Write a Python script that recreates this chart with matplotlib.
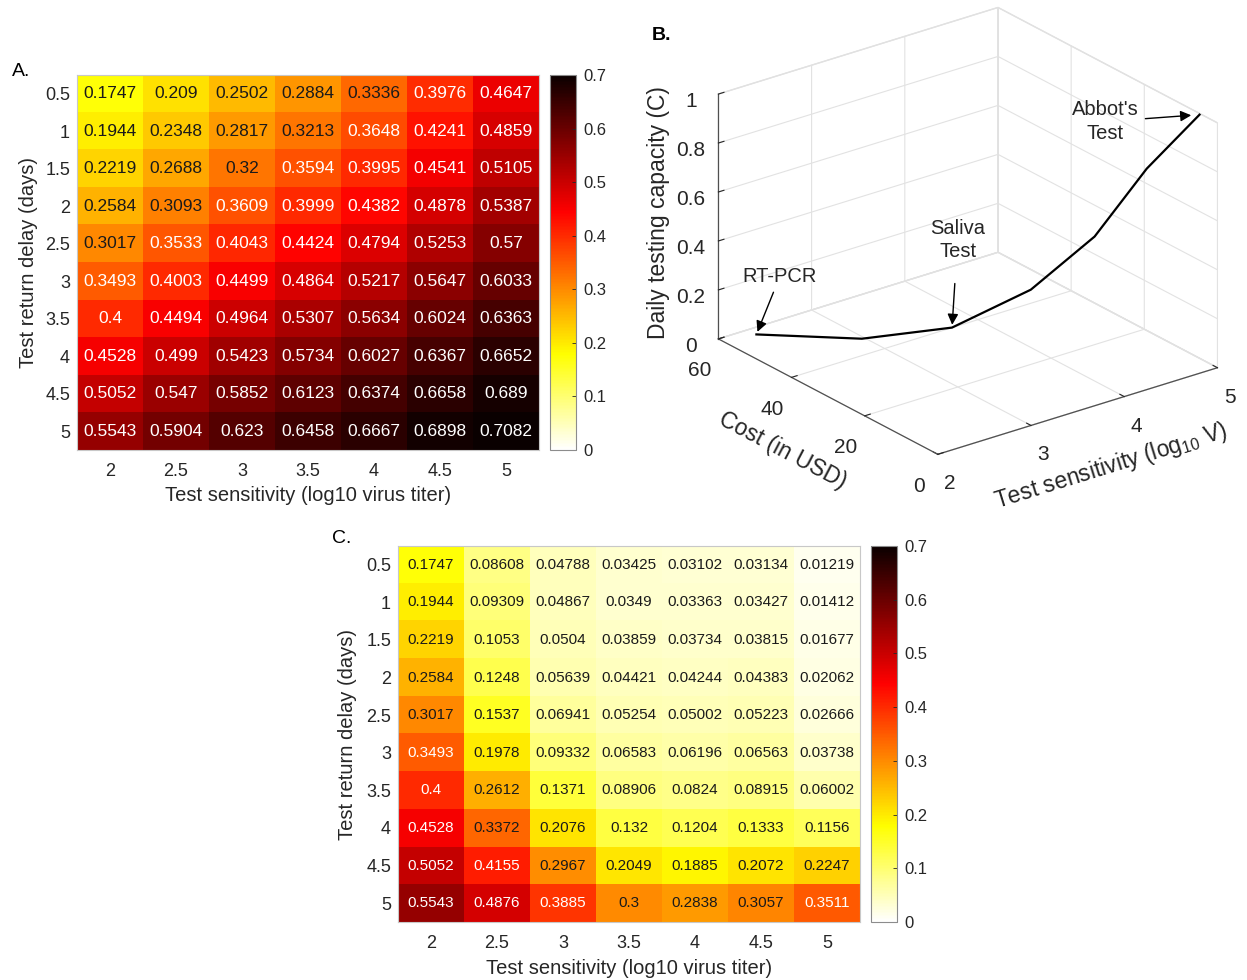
import numpy as np
import matplotlib
matplotlib.use('Agg')
import matplotlib.pyplot as plt
from mpl_toolkits.mplot3d import proj3d

plt.rcParams['font.family'] = ['Liberation Sans', 'DejaVu Sans']
plt.rcParams['mathtext.fontset'] = 'custom'
plt.rcParams['mathtext.rm'] = 'Liberation Sans'
plt.rcParams['mathtext.default'] = 'regular'

# ---------------- data ----------------
sens_labels = ['2', '2.5', '3', '3.5', '4', '4.5', '5']
delay_labels = ['0.5', '1', '1.5', '2', '2.5', '3', '3.5', '4', '4.5', '5']

prob_A = [
    [0.1747, 0.209, 0.2502, 0.2884, 0.3336, 0.3976, 0.4647],
    [0.1944, 0.2348, 0.2817, 0.3213, 0.3648, 0.4241, 0.4859],
    [0.2219, 0.2688, 0.32, 0.3594, 0.3995, 0.4541, 0.5105],
    [0.2584, 0.3093, 0.3609, 0.3999, 0.4382, 0.4878, 0.5387],
    [0.3017, 0.3533, 0.4043, 0.4424, 0.4794, 0.5253, 0.57],
    [0.3493, 0.4003, 0.4499, 0.4864, 0.5217, 0.5647, 0.6033],
    [0.4, 0.4494, 0.4964, 0.5307, 0.5634, 0.6024, 0.6363],
    [0.4528, 0.499, 0.5423, 0.5734, 0.6027, 0.6367, 0.6652],
    [0.5052, 0.547, 0.5852, 0.6123, 0.6374, 0.6658, 0.689],
    [0.5543, 0.5904, 0.623, 0.6458, 0.6667, 0.6898, 0.7082],
]

prob_C = [
    [0.1747, 0.08608, 0.04788, 0.03425, 0.03102, 0.03134, 0.01219],
    [0.1944, 0.09309, 0.04867, 0.0349, 0.03363, 0.03427, 0.01412],
    [0.2219, 0.1053, 0.0504, 0.03859, 0.03734, 0.03815, 0.01677],
    [0.2584, 0.1248, 0.05639, 0.04421, 0.04244, 0.04383, 0.02062],
    [0.3017, 0.1537, 0.06941, 0.05254, 0.05002, 0.05223, 0.02666],
    [0.3493, 0.1978, 0.09332, 0.06583, 0.06196, 0.06563, 0.03738],
    [0.4, 0.2612, 0.1371, 0.08906, 0.0824, 0.08915, 0.06002],
    [0.4528, 0.3372, 0.2076, 0.132, 0.1204, 0.1333, 0.1156],
    [0.5052, 0.4155, 0.2967, 0.2049, 0.1885, 0.2072, 0.2247],
    [0.5543, 0.4876, 0.3885, 0.3, 0.2838, 0.3057, 0.3511],
]

curve_sens = [2, 2.5, 3, 3.5, 4, 4.5, 5]
curve_cost = [49.6, 33.5, 21.6, 12.8, 8.1, 6.6, 4.9]
curve_capacity = [0.10, 0.15, 0.23, 0.395, 0.59, 0.82, 0.995]

cbar_ticks = [0, 0.1, 0.2, 0.3, 0.4, 0.5, 0.6, 0.7]
cbar_labels = ['0', '0.1', '0.2', '0.3', '0.4', '0.5', '0.6', '0.7']

# ---------------- figure ----------------
W, H = 1247, 980
fig = plt.figure(figsize=(W / 100, H / 100), dpi=100)
TXT = '#262626'
cmap = plt.get_cmap('hot_r')
VMAX = 0.7


def rect(x0, y0, x1, y1):
    return [x0 / W, 1 - y1 / H, (x1 - x0) / W, (y1 - y0) / H]


def heatmap(ax, cax, vals, cell_fs, lab_x, lab_y):
    arr = np.array(vals)
    im = ax.imshow(arr, cmap=cmap, vmin=0, vmax=VMAX, aspect='auto',
                   interpolation='nearest')
    for i in range(arr.shape[0]):
        for j in range(arr.shape[1]):
            r, g, b, _ = cmap(arr[i, j] / VMAX)
            lum = 0.2126 * r + 0.7152 * g + 0.0722 * b
            col = 'white' if lum < 0.485 else '#1a1a1a'
            ax.text(j, i, '%.4g' % arr[i, j], ha='center', va='center',
                    fontsize=cell_fs, color=col)
    ax.set_xticks(range(len(sens_labels)))
    ax.set_xticklabels(sens_labels)
    ax.set_yticks(range(len(delay_labels)))
    ax.set_yticklabels(delay_labels)
    ax.tick_params(axis='both', length=0, labelsize=13, colors=TXT)
    ax.tick_params(axis='x', pad=9)
    ax.tick_params(axis='y', pad=5)
    for s in ax.spines.values():
        s.set_color('#c8c8c8')
        s.set_linewidth(0.8)
    ax.set_xlabel('Test sensitivity (log10 virus titer)', fontsize=14.5, color=TXT)
    ax.set_ylabel('Test return delay (days)', fontsize=14.5, color=TXT)
    ax.xaxis.label.set_va('center')
    ax.yaxis.label.set_va('center')
    ax.xaxis.set_label_coords(0.5, lab_y)
    ax.yaxis.set_label_coords(lab_x, 0.5)

    cb = fig.colorbar(im, cax=cax)
    cb.set_ticks(cbar_ticks)
    cb.set_ticklabels(cbar_labels)
    cb.ax.tick_params(labelsize=12, colors=TXT, length=3, direction='in',
                      width=0.6, pad=5)
    cb.outline.set_edgecolor('#8c8c8c')
    cb.outline.set_linewidth(0.8)


# Panel A
axA = fig.add_axes(rect(77, 75, 539, 450))
caxA = fig.add_axes(rect(550, 75, 576, 450))
heatmap(axA, caxA, prob_A, 12.5, -0.106, -0.122)

# Panel C
axC = fig.add_axes(rect(398, 546, 860, 922))
caxC = fig.add_axes(rect(871, 546, 897, 922))
heatmap(axC, caxC, prob_C, 11, -0.110, -0.124)

# Panel B (3D)
ax3 = fig.add_axes([0.5, 0.5, 0.4, 0.4 * W / H], projection='3d', proj_type='ortho')
ax3.plot(curve_sens, curve_cost, curve_capacity, color='k', lw=1.6)
ax3.set_xlim(2, 5)
ax3.set_ylim(0, 60)
ax3.set_zlim(0, 1)
ax3.view_init(elev=23.8, azim=-127.5)
ax3.set_box_aspect((353, 361, 268))
ax3.set_xticks([2, 3, 4, 5])
ax3.set_yticks([0, 20, 40, 60])
ax3.set_zticks([0, 0.2, 0.4, 0.6, 0.8, 1])
ax3.set_zticklabels(['0', '0.2', '0.4', '0.6', '0.8', '1'])
ax3.set_xlabel(r'Test sensitivity (log$_{10}$ V)', fontsize=16.5, color=TXT,
               labelpad=11)
ax3.set_ylabel('Cost (in USD)', fontsize=16.5, color=TXT, labelpad=13)
ax3.set_zlabel('Daily testing capacity (C)', fontsize=16.5, color=TXT)
ax3.tick_params(labelsize=15, colors=TXT)
ax3.tick_params(axis='y', pad=6)
for axis in (ax3.xaxis, ax3.yaxis, ax3.zaxis):
    axis.set_pane_color((1, 1, 1, 1))
    axis.pane.set_edgecolor('#dedede')
    axis._axinfo['grid'].update(color='#e2e2e2', linewidth=0.8)
    axis._axinfo['tick'].update(inward_factor=0.0, outward_factor=0.25)
    axis.line.set_color('#505050')
    axis.line.set_linewidth(0.9)

# fit the projected box onto the reference layout
targets_img = {(2, 0, 0): (938, 454), (5, 0, 0): (1218, 366),
               (2, 60, 0): (718, 340), (2, 60, 1): (718, 95)}
fig.canvas.draw()


def project(pts):
    M = ax3.get_proj()
    X, Y, Z = np.array(pts, dtype=float).T
    xs, ys, _ = proj3d.proj_transform(X, Y, Z, M)
    return np.column_stack([xs, ys])


keys = list(targets_img)
p2 = project(keys)
frac = ax3.transAxes.inverted().transform(ax3.transData.transform(p2))
Arows, bvec = [], []
for (fx, fy), k in zip(frac, keys):
    tx, ty = targets_img[k]
    Arows.append([1, 0, fx]); bvec.append(tx)
    Arows.append([0, 1, fy]); bvec.append(H - ty)
x0, y0, S = np.linalg.lstsq(np.array(Arows), np.array(bvec), rcond=None)[0]
ax3.set_position([x0 / W, y0 / H, S / W, S / H])
fig.canvas.draw()

# annotations
pts = project(list(zip(curve_sens, curve_cost, curve_capacity)))
arrow = dict(arrowstyle='-|>', color='k', lw=1.0, mutation_scale=16,
             shrinkA=3, shrinkB=2)
ax3.annotate('RT-PCR', xy=pts[0], xycoords='data', xytext=(17, 42),
             textcoords='offset points', ha='center', va='center',
             fontsize=14.5, color=TXT, arrowprops=arrow)
ax3.annotate('Saliva\nTest', xy=pts[2], xycoords='data', xytext=(4, 63),
             textcoords='offset points', ha='center', va='center',
             fontsize=14.5, color=TXT, linespacing=1.3,
             arrowprops=dict(arrow, shrinkA=14))
ax3.annotate("Abbot's\nTest", xy=pts[-1], xycoords='data', xytext=(-68, -5),
             textcoords='offset points', ha='center', va='center',
             fontsize=14.5, color=TXT, linespacing=1.3,
             arrowprops=dict(arrow, shrinkB=6))

# panel letters
fig.text(12 / W, 1 - 72 / H, 'A.', fontsize=14, color='k', va='center', ha='left')
fig.text(652 / W, 1 - 35 / H, 'B.', fontsize=14, color='k', va='center', ha='left',
         fontweight='bold')
fig.text(332 / W, 1 - 538 / H, 'C.', fontsize=14, color='k', va='center', ha='left')

fig.savefig('out.png', dpi=100, facecolor='white')
